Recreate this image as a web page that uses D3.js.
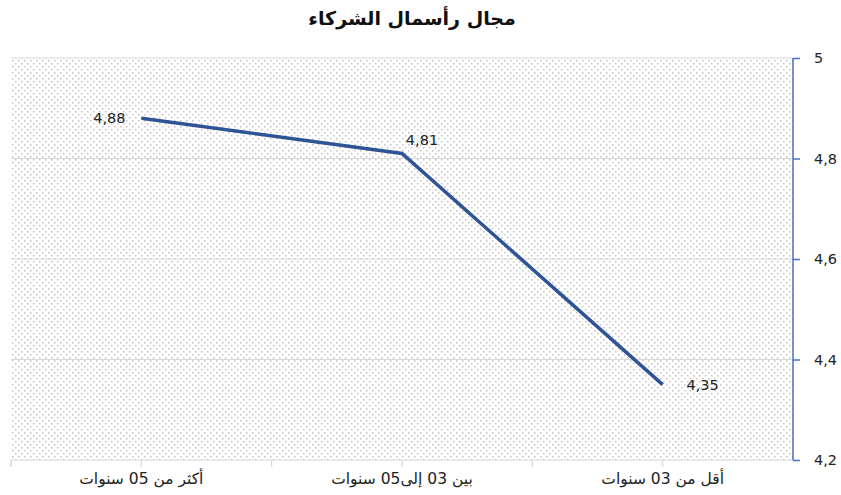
<!DOCTYPE html>
<html>
<head>
<meta charset="utf-8">
<script src="https://cdn.jsdelivr.net/npm/d3@7"></script>
<style>
  body { margin: 0; background: #fff; }
  svg { display: block; }
</style>
</head>
<body>
<svg id="chart" width="841" height="495"></svg>
<script>
// Chart data
const title = 'مجال رأسمال الشركاء';
const categories = ['أقل من 03 سنوات', 'بين 03 إلى05 سنوات', 'أكثر من 05 سنوات'];
const values = [4.35, 4.81, 4.88];
const yTicks = [4.2, 4.4, 4.6, 4.8, 5];

const svg = d3.select('#chart');
const margin = { top: 58, right: 48, bottom: 35, left: 11 };
const width = 841, height = 495;
const x0 = margin.left, x1 = width - margin.right;
const y0 = height - margin.bottom, y1 = margin.top;

// dotted background pattern
const defs = svg.append('defs');
const pat = defs.append('pattern')
  .attr('id', 'dots')
  .attr('width', 6).attr('height', 6)
  .attr('patternUnits', 'userSpaceOnUse');
pat.append('rect').attr('width', 6).attr('height', 6).attr('fill', '#fff');
pat.append('rect').attr('x', 0).attr('y', 0).attr('width', 1.5).attr('height', 1.5).attr('fill', '#c2c2c2');
pat.append('rect').attr('x', 3).attr('y', 3).attr('width', 1.5).attr('height', 1.5).attr('fill', '#c2c2c2');

// RTL: first category on the right
const xBand = d3.scaleBand().domain(categories).range([x1, x0]);
const xPoint = d3.scalePoint().domain(categories).range([x1, x0]).padding(0.5);
const y = d3.scaleLinear().domain([4.2, 5]).range([y0, y1]);

svg.append('rect')
  .attr('x', x0).attr('y', y1)
  .attr('width', x1 - x0).attr('height', y0 - y1)
  .attr('fill', 'url(#dots)');

// gridlines
svg.append('g')
  .selectAll('line')
  .data(yTicks.filter(d => d > 4.2))
  .enter()
  .append('line')
  .attr('x1', x0).attr('x2', x1)
  .attr('y1', d => y(d)).attr('y2', d => y(d))
  .attr('stroke', '#d9d9d9')
  .attr('stroke-width', 1.2);

// x axis (baseline + ticks at band edges and centres)
svg.append('line')
  .attr('x1', x0).attr('x2', x1)
  .attr('y1', y0).attr('y2', y0)
  .attr('stroke', '#d9d9d9').attr('stroke-width', 1.2);

const edges = [x0, ...categories.map(c => xBand(c))];
const centres = categories.map(c => xPoint(c));
svg.append('g')
  .selectAll('line')
  .data(edges.concat(centres))
  .enter()
  .append('line')
  .attr('x1', d => d).attr('x2', d => d)
  .attr('y1', y0).attr('y2', y0 + 7)
  .attr('stroke', '#d9d9d9').attr('stroke-width', 1.2);

svg.append('g')
  .selectAll('text')
  .data(categories)
  .enter()
  .append('text')
  .attr('x', d => xPoint(d))
  .attr('y', y0 + 24)
  .attr('text-anchor', 'middle')
  .attr('font-family', 'DejaVu Sans, sans-serif')
  .attr('font-size', 15.5)
  .attr('fill', '#222')
  .text(d => d);

// right y axis
const yAxis = d3.axisRight(y)
  .tickValues(yTicks)
  .tickSize(7)
  .tickFormat(d => d3.format('.1~f')(d).replace('.', ','));

const ya = svg.append('g')
  .attr('transform', `translate(${x1},0)`)
  .call(yAxis);
ya.select('.domain').attr('stroke', '#4a72c4').attr('stroke-width', 1.5)
  .attr('d', `M0,${y1}V${y0}`);
ya.selectAll('.tick line').attr('stroke', '#4a72c4').attr('stroke-width', 1.5);
ya.selectAll('.tick text')
  .attr('x', 21)
  .attr('font-family', 'DejaVu Sans, sans-serif')
  .attr('font-size', 14.5)
  .attr('fill', '#222');

// line
const points = categories.map((c, i) => ({ c, v: values[i] }));
svg.append('path')
  .datum(points)
  .attr('fill', 'none')
  .attr('stroke', '#2f5496')
  .attr('stroke-width', 3.5)
  .attr('d', d3.line().x(d => xPoint(d.c)).y(d => y(d.v)));

// data labels
const labelOffsets = [
  { dx: 40, dy: 5 },
  { dx: 20, dy: -8 },
  { dx: -32, dy: 5 }
];
svg.append('g')
  .selectAll('text')
  .data(points)
  .enter()
  .append('text')
  .attr('x', (d, i) => xPoint(d.c) + labelOffsets[i].dx)
  .attr('y', (d, i) => y(d.v) + labelOffsets[i].dy)
  .attr('text-anchor', 'middle')
  .attr('font-family', 'DejaVu Sans, sans-serif')
  .attr('font-size', 14.5)
  .attr('fill', '#222')
  .text(d => d3.format('.2f')(d.v).replace('.', ','));

// title
svg.append('text')
  .attr('x', 412)
  .attr('y', 25)
  .attr('text-anchor', 'middle')
  .attr('font-family', 'DejaVu Sans, sans-serif')
  .attr('font-weight', 'bold')
  .attr('font-size', 19)
  .attr('fill', '#111')
  .text(title);
</script>
</body>
</html>
